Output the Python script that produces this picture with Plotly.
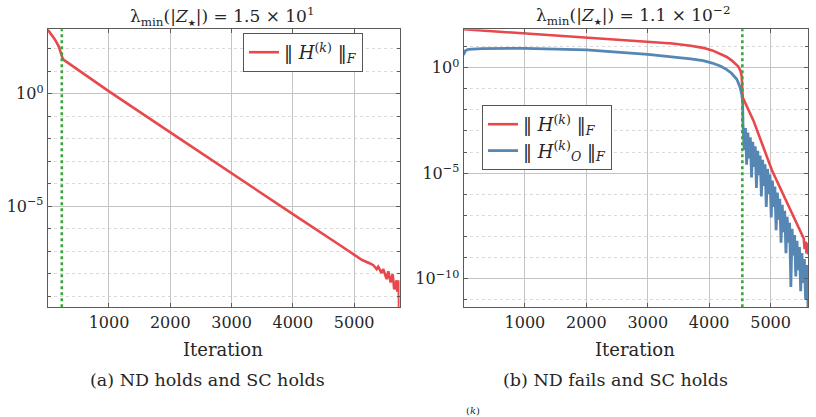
import plotly.graph_objects as go

# ---------------- data (log10 of the norms) ----------------
# Panel (a)
iter_a = [0, 60, 120, 180, 210, 230, 250, 420, 1000, 2000, 3000, 4000, 4770, 4900, 5010, 5130, 5260,
          5312, 5367, 5393, 5449, 5475, 5530, 5557, 5595, 5628, 5654, 5693, 5703, 5726, 5738]
logH_a = [2.85, 2.62, 2.40, 2.10, 1.90, 1.68, 1.52, 1.20, 0.10, -1.72, -3.55, -5.36, -6.74, -6.98, -7.18, -7.40, -7.55,
          -7.63, -7.80, -7.70, -7.98, -7.80, -8.25, -7.90, -8.40, -8.02, -8.70, -8.30, -8.80, -8.30, -10.5]
switch_a = 230

# Panel (b)
iter_b_H = [0, 1000, 2000, 3000, 3400, 3700, 3900, 4050, 4180, 4280, 4360, 4420, 4475, 4510, 4530, 4545, 4720, 5020, 5300,
            5540, 5555, 5570, 5585, 5600, 5612]
logH_b = [1.82, 1.63, 1.44, 1.26, 1.15, 1.04, 0.94, 0.82, 0.67, 0.52, 0.36, 0.20, 0.05, -0.15, -0.40, -1.40, -2.50, -4.85, -6.60,
          -8.10, -8.60, -8.25, -8.80, -8.30, -8.85]

iter_b_HO = [0, 30, 80, 300, 1000, 2000, 3000, 3400, 3700, 3900, 4050, 4180, 4280, 4360, 4450, 4500, 4530, 4545] + \
            list(range(4550, 5611, 20))
logHO_b = [0.60, 0.80, 0.87, 0.90, 0.92, 0.84, 0.63, 0.52, 0.42, 0.33, 0.22, 0.08, -0.08, -0.25, -0.55, -0.90, -1.25, -1.60,
           -2.65, -3.90, -2.86, -4.60, -3.08, -4.30, -3.30, -5.20, -3.51, -4.70,
           -3.73, -5.70, -3.94, -5.10, -4.16, -6.10, -4.37, -5.60, -4.58, -6.60,
           -4.80, -6.00, -5.06, -7.10, -5.35, -6.60, -5.64, -7.70, -5.92, -7.20,
           -6.21, -8.30, -6.50, -7.80, -6.78, -8.80, -7.07, -8.30, -7.35, -10.4,
           -7.64, -8.90, -7.93, -9.90, -8.21, -9.60, -8.50, -10.6, -8.79, -10.2,
           -9.07, -11.0, -9.36, -11.4]
switch_b = 4540

STAR = "<span style=\"font-family:'DejaVu Sans';font-size:9px\">★</span>"
title_a = "λ<sub>min</sub>(|<i>Z</i><sub>" + STAR + "</sub>|) = 1.5 × 10<sup>1</sup>"
title_b = "λ<sub>min</sub>(|<i>Z</i><sub>" + STAR + "</sub>|) = 1.1 × 10<sup>−2</sup>"
name_H = "‖ <i>H</i><sup>(<i>k</i>)</sup> ‖<sub><i>F</i></sub>"
name_HO = "‖ <i>H</i><sup>(<i>k</i>)</sup><sub><i>O</i></sub> ‖<sub><i>F</i></sub>"
x_ticks = [1000, 2000, 3000, 4000, 5000]
y_ticks_a = [1e0, 1e-5]
y_text_a = ["10<sup>0</sup>", "10<sup>−5</sup>"]
y_ticks_b = [1e0, 1e-5, 1e-10]
y_text_b = ["10<sup>0</sup>", "10<sup>−5</sup>", "10<sup>−10</sup>"]
minor_a = [10.0 ** k for k in range(-9, 3)]
minor_b = [10.0 ** k for k in range(-11, 2)]

RED = "#e8474c"
BLUE = "#5686b4"
GREEN = "#3aa53a"
FONT = "DejaVu Serif"

W, H = 816, 417
def px(x): return x / W
def py(y): return (H - y) / H

fig = go.Figure()
fig.add_trace(go.Scatter(x=iter_a, y=[10 ** v for v in logH_a], mode="lines",
                         line=dict(color=RED, width=2.6), name=name_H,
                         xaxis="x", yaxis="y", legend="legend"))
fig.add_trace(go.Scatter(x=iter_b_HO, y=[10 ** v for v in logHO_b], mode="lines",
                         line=dict(color=BLUE, width=2.8), name=name_HO,
                         xaxis="x2", yaxis="y2", legend="legend2", legendrank=2))
fig.add_trace(go.Scatter(x=iter_b_H, y=[10 ** v for v in logH_b], mode="lines",
                         line=dict(color=RED, width=2.6), name=name_H,
                         xaxis="x2", yaxis="y2", legend="legend2", legendrank=1))

for xr, sw in (("x", switch_a), ("x2", switch_b)):
    fig.add_shape(type="line", xref=xr, yref=("y" if xr == "x" else "y2") + " domain",
                  x0=sw, x1=sw, y0=0, y1=1, line=dict(color=GREEN, width=2.6, dash="dot"))

axis_common = dict(showline=True, linecolor="#5a5a5a", linewidth=1, mirror="allticks",
                   ticks="inside", ticklen=4, tickcolor="#5a5a5a",
                   showgrid=True, gridcolor="#c4c4c4", gridwidth=1, zeroline=False,
                   tickfont=dict(family=FONT, size=16, color="#262626"))

y0d, y1d = py(307.3), py(29.3)
fig.update_layout(
    width=W, height=H, margin=dict(l=0, r=0, t=0, b=0),
    paper_bgcolor="white", plot_bgcolor="white",
    font=dict(family=FONT, size=16, color="#262626"),
    xaxis=dict(domain=[px(47.7), px(399.5)], range=[0, 5740], anchor="y",
               tickvals=x_ticks, **axis_common),
    yaxis=dict(domain=[y0d, y1d], type="log", range=[-9.5, 2.86], anchor="x",
               tickvals=y_ticks_a, ticktext=y_text_a,
               minor=dict(tickvals=minor_a, showgrid=True, gridcolor="#dadada",
                          griddash="dot", ticks="inside", ticklen=3, tickcolor="#5a5a5a"),
               **axis_common),
    xaxis2=dict(domain=[px(463.5), px(808.3)], range=[0, 5614], anchor="y2",
                tickvals=x_ticks, **axis_common),
    yaxis2=dict(domain=[y0d, y1d], type="log", range=[-11.36, 1.82], anchor="x2",
                tickvals=y_ticks_b, ticktext=y_text_b,
                minor=dict(tickvals=minor_b, showgrid=True, gridcolor="#dadada",
                           griddash="dot", ticks="inside", ticklen=3, tickcolor="#5a5a5a"),
                **axis_common),
    legend=dict(x=px(243), y=py(33), xanchor="left", yanchor="top",
                bgcolor="white", bordercolor="#555555", borderwidth=1,
                font=dict(family=FONT, size=18, color="#262626")),
    legend2=dict(x=px(482), y=py(105), xanchor="left", yanchor="top",
                 bgcolor="white", bordercolor="#555555", borderwidth=1,
                 traceorder="normal",
                 font=dict(family=FONT, size=18, color="#262626")),
    showlegend=True,
)

ann = [
    (title_a, 223, 17, 17),
    (title_b, 633, 15, 17),
    ("Iteration", 223, 349, 18),
    ("Iteration", 635, 349, 18),
    ("(a) ND holds and SC holds", 207, 380, 17.5),
    ("(b) ND fails and SC holds", 615, 380, 17.5),
]
for text, x, y, s in ann:
    fig.add_annotation(text=text, xref="paper", yref="paper", x=px(x), y=py(y),
                       xanchor="center", yanchor="middle", showarrow=False,
                       font=dict(family=FONT, size=s, color="#262626"))
fig.add_annotation(text="(<i>k</i>)", xref="paper", yref="paper", x=px(473), y=py(403),
                   xanchor="center", yanchor="top", showarrow=False,
                   font=dict(family=FONT, size=10, color="#262626"))

fig.write_html("out.html")
